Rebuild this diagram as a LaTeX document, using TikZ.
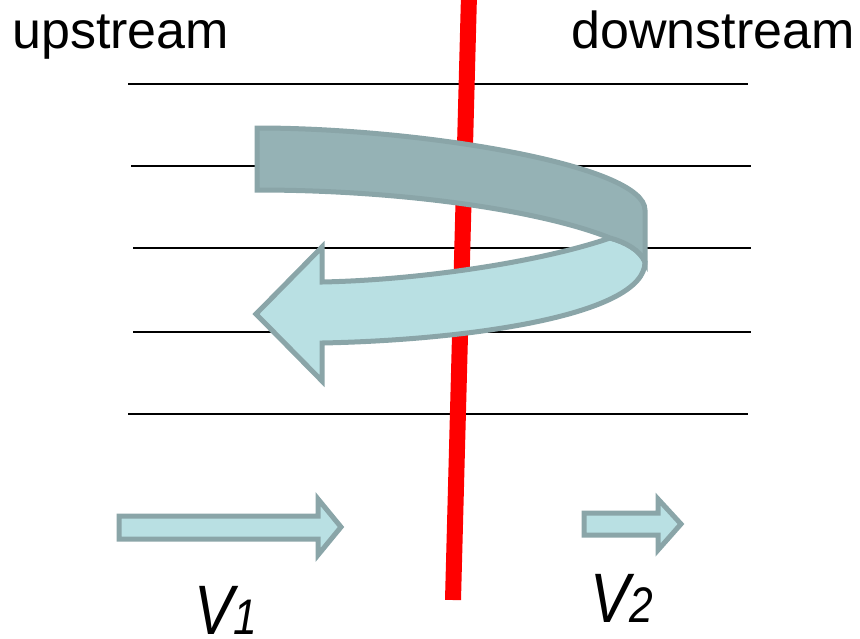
\documentclass[tikz,border=0pt]{standalone}
\usepackage{fontspec}
\setmainfont{Liberation Sans}
\definecolor{bandDark}{HTML}{95B2B5}
\definecolor{bandLight}{HTML}{B9E0E3}
\definecolor{bandEdge}{HTML}{8AA5A8}
\definecolor{cutRed}{HTML}{FF0000}
\tikzset{
  streamline/.style={line width=2pt, black},
  darkband/.style={fill=bandDark, draw=bandEdge, line width=5pt, line join=miter},
  lightband/.style={fill=bandLight, draw=bandEdge, line width=5pt, line join=miter},
  label/.style={inner sep=0pt, font=\fontsize{52}{60}\selectfont},
  vlabel/.style={inner sep=0pt, xscale=0.85, font=\fontsize{70}{76}\selectfont\itshape}
}
\begin{document}
\begin{tikzpicture}[x=1pt,y=-1pt]
\useasboundingbox (0,0) rectangle (860,638);
% streamlines
\draw[streamline] (128,84) -- (748,84);
\draw[streamline] (131,166) -- (751,166);
\draw[streamline] (133,248) -- (751,248);
\draw[streamline] (133,332) -- (751,332);
\draw[streamline] (128,414) -- (748,414);
% red cut line
\draw[cutRed, line width=16pt] (469,-5) -- (453,600);
% curved arrow: light lower band with head
\draw[lightband] (610,238) .. controls (540,262) and (420,280) .. (322,282)
  -- (322,247) -- (256,314) -- (322,381) -- (322,343)
  .. controls (470,340) and (645,315) .. (645,262)
  .. controls (640,250) and (625,242) .. cycle;
% dark upper band
\draw[darkband] (257,128) .. controls (420,128) and (645,165) .. (645,210)
  -- (645,262) .. controls (640,250) and (625,242) .. (610,238)
  .. controls (540,210) and (400,190) .. (257,190) -- cycle;
% bottom velocity arrows
\draw[lightband] (119,516) -- (318,516) -- (318,499) -- (341,527) -- (318,555) -- (318,539) -- (119,539) -- cycle;
\draw[lightband] (584,513) -- (658,513) -- (658,499) -- (681,524) -- (658,550) -- (658,535) -- (584,535) -- cycle;
% labels
\node[label, anchor=base west] (up) at (12,48) {upstream};
\node[label, anchor=base east] (down) at (855,48) {downstream};
\node[vlabel, anchor=base west] (v1) at (194,634) {V{\fontsize{50}{54}\selectfont 1}};
\node[vlabel, anchor=base west] (v2) at (590,622) {V{\fontsize{50}{54}\selectfont 2}};
\end{tikzpicture}
\end{document}
